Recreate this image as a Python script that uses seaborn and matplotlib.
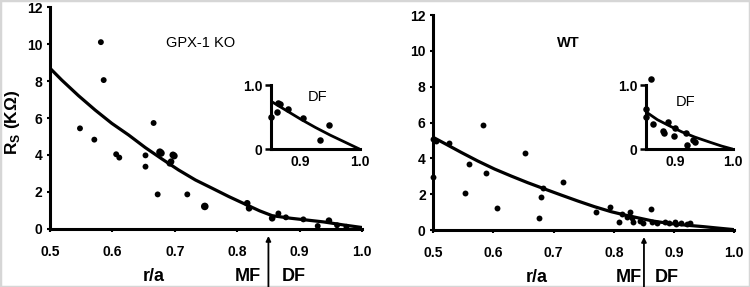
import matplotlib
matplotlib.use("Agg")
import matplotlib.pyplot as plt
import seaborn as sns
from matplotlib.patches import Rectangle

sns.set_style("ticks")
plt.rcParams['font.family'] = ['Liberation Sans', 'DejaVu Sans']
plt.rcParams['mathtext.fontset'] = 'custom'
plt.rcParams['mathtext.rm'] = 'Liberation Sans'
plt.rcParams['mathtext.bf'] = 'Liberation Sans:bold'
for k in ['text.color', 'axes.labelcolor', 'xtick.color', 'ytick.color', 'axes.edgecolor']:
    plt.rcParams[k] = 'black'

# ---------------- data ----------------
# GPX-1 KO main scatter
ko_x = [0.5815, 0.586, 0.548, 0.571, 0.606, 0.611, 0.666, 0.653, 0.653, 0.676, 0.678,
        0.697, 0.699, 0.694, 0.692, 0.6725, 0.720, 0.748, 0.816, 0.819, 0.856, 0.866,
        0.878, 0.906, 0.947, 0.929, 0.960, 0.975]
ko_y = [10.1, 8.05, 5.44, 4.83, 4.04, 3.86, 5.73, 3.98, 3.37, 4.16, 4.10,
        4.00, 3.95, 3.64, 3.55, 1.87, 1.87, 1.22, 1.39, 1.12, 0.58, 0.84,
        0.63, 0.52, 0.45, 0.16, 0.20, 0.12]
ko_size = [1, 1, 1, 1, 1, 1, 1, 1, 1, 1.4, 1.4,
           1.3, 1.3, 1.2, 1.2, 1, 1, 1.5, 1.2, 1.2, 1.2, 1,
           1, 1, 1.2, 1, 1, 1]
# GPX-1 KO fitted curve
ko_fit_x = [0.5, 0.5188, 0.5455, 0.5723, 0.599, 0.626, 0.6527, 0.6796, 0.706, 0.733,
            0.76, 0.7867, 0.8135, 0.836, 0.856, 0.886, 0.91, 0.939, 0.97, 1.0]
ko_fit_y = [8.69, 8.05, 7.21, 6.43, 5.71, 5.08, 4.40, 3.78, 3.19, 2.65,
            2.20, 1.75, 1.33, 0.98, 0.72, 0.58, 0.49, 0.38, 0.22, 0.08]
# GPX-1 KO inset (DF)
ko_in_x = [0.860, 0.862, 0.866, 0.851, 0.8786, 0.9036, 0.933, 0.9485]
ko_in_y = [0.585, 0.72, 0.70, 0.50, 0.627, 0.48, 0.145, 0.373]
ko_in_fit_x = [0.85, 0.875, 0.9, 0.925, 0.95, 0.975, 1.0]
ko_in_fit_y = [0.75, 0.61, 0.47, 0.34, 0.22, 0.11, 0.0]

# WT main scatter
wt_x = [0.50, 0.5045, 0.526, 0.583, 0.559, 0.587, 0.553, 0.606, 0.50, 0.653, 0.683,
        0.679, 0.676, 0.715, 0.771, 0.794, 0.809, 0.814, 0.821, 0.827, 0.830, 0.832,
        0.843, 0.848, 0.861, 0.863, 0.871, 0.885, 0.892, 0.901, 0.904, 0.912, 0.921, 0.927]
wt_y = [5.08, 4.98, 4.87, 5.84, 3.68, 3.20, 2.06, 1.24, 2.97, 4.28, 2.36,
        1.82, 0.69, 2.69, 1.02, 1.30, 0.43, 0.87, 0.74, 0.99, 0.65, 0.46,
        0.52, 0.41, 1.15, 0.46, 0.37, 0.46, 0.41, 0.46, 0.33, 0.41, 0.33, 0.41]
# WT fitted curve
wt_fit_x = [0.5, 0.519, 0.5465, 0.574, 0.602, 0.6296, 0.657, 0.685, 0.7126, 0.740,
            0.768, 0.7957, 0.818, 0.84, 0.865, 0.893, 0.92, 0.948, 0.975, 1.0]
wt_fit_y = [5.17, 4.83, 4.33, 3.85, 3.40, 3.01, 2.64, 2.29, 1.95, 1.62,
            1.30, 1.02, 0.84, 0.68, 0.50, 0.36, 0.27, 0.19, 0.10, 0.02]
# WT inset (DF)
wt_in_x = [0.8586, 0.8505, 0.85, 0.863, 0.879, 0.881, 0.8887, 0.900, 0.8985, 0.919, 0.921, 0.9315, 0.934]
wt_in_y = [1.09, 0.63, 0.50, 0.39, 0.29, 0.25, 0.43, 0.33, 0.20, 0.26, 0.07, 0.145, 0.12]
wt_in_fit_x = [0.85, 0.87, 0.8916, 0.912, 0.934, 0.96, 0.98, 1.0]
wt_in_fit_y = [0.585, 0.46, 0.36, 0.27, 0.19, 0.11, 0.05, 0.0]

main_xticks = [0.5, 0.6, 0.7, 0.8, 0.9, 1.0]
main_xticklabels = ["0.5", "0.6", "0.7", "0.8", "0.9", "1.0"]
main_yticks = [0, 2, 4, 6, 8, 10, 12]
inset_xticks = [0.9, 1.0]
inset_xticklabels = ["0.9", "1.0"]
inset_yticks = [0, 1.0]
inset_yticklabels = ["0", "1.0"]

# ---------------- figure ----------------
fig = plt.figure(figsize=(7.5, 2.87), dpi=100)
fig.patch.set_facecolor("white")
fig.patches.append(Rectangle((0, 0), 1, 1, transform=fig.transFigure, fill=False,
                             edgecolor="#d6d6d6", linewidth=2.5, zorder=-1))

ax1 = fig.add_axes([0.0667, 0.2021, 0.416, 0.7735])
ax2 = fig.add_axes([0.5777, 0.1986, 0.4013, 0.749])
in1 = fig.add_axes([0.361, 0.4798, 0.119, 0.224])
in2 = fig.add_axes([0.861, 0.4798, 0.1168, 0.224])

def style_common(ax):
    for s in ["top", "right"]:
        ax.spines[s].set_visible(False)
    for s in ["left", "bottom"]:
        ax.spines[s].set_linewidth(2.2)
        ax.spines[s].set_color("black")
    ax.set_xlabel("")
    ax.set_ylabel("")
    ax.set_facecolor("none")

def style_main(ax):
    ax.set_xlim(0.5, 1.0)
    ax.set_ylim(0, 12)
    ax.set_xticks(main_xticks)
    ax.set_xticklabels(main_xticklabels)
    ax.set_yticks(main_yticks)
    style_common(ax)
    ax.tick_params(axis="x", length=2.5, width=1.5, pad=9, labelsize=10)
    ax.tick_params(axis="y", length=2.5, width=1.5, pad=3, labelsize=10)
    for lab in ax.get_xticklabels() + ax.get_yticklabels():
        lab.set_fontweight("bold")

def style_inset(ax):
    ax.set_xlim(0.85, 1.0)
    ax.set_ylim(0, 1.0)
    ax.set_xticks(inset_xticks)
    ax.set_xticklabels(inset_xticklabels)
    ax.set_yticks(inset_yticks)
    ax.set_yticklabels(inset_yticklabels)
    style_common(ax)
    ax.tick_params(axis="x", length=0, pad=4, labelsize=10)
    ax.tick_params(axis="y", length=4, width=1.8, pad=2, labelsize=10)
    for lab in ax.get_xticklabels() + ax.get_yticklabels():
        lab.set_fontweight("bold")

# main panels
sns.scatterplot(x=ko_x, y=ko_y, size=ko_size, sizes=(18, 30), ax=ax1, color="black",
                linewidth=0, clip_on=False, zorder=3, legend=False)
sns.lineplot(x=ko_fit_x, y=ko_fit_y, ax=ax1, color="black", linewidth=2.3,
             estimator=None, sort=True, zorder=4)
sns.scatterplot(x=wt_x, y=wt_y, ax=ax2, color="black", s=18,
                linewidth=0, clip_on=False, zorder=3)
sns.lineplot(x=wt_fit_x, y=wt_fit_y, ax=ax2, color="black", linewidth=2.3,
             estimator=None, sort=True, zorder=4)

# insets
sns.scatterplot(x=ko_in_x, y=ko_in_y, ax=in1, color="black", s=22,
                linewidth=0, clip_on=False, zorder=3)
sns.lineplot(x=ko_in_fit_x, y=ko_in_fit_y, ax=in1, color="black", linewidth=2.0,
             estimator=None, zorder=4)
sns.scatterplot(x=wt_in_x, y=wt_in_y, ax=in2, color="black", s=22,
                linewidth=0, clip_on=False, zorder=3)
sns.lineplot(x=wt_in_fit_x, y=wt_in_fit_y, ax=in2, color="black", linewidth=2.0,
             estimator=None, zorder=4)

style_main(ax1)
style_main(ax2)
style_inset(in1)
style_inset(in2)

# y-axis label placed explicitly in figure coordinates
fig.text(12 / 750, 1 - 122 / 287, r"R$_\mathbf{S}$ (KΩ)", rotation=90, ha="center",
         va="center", fontsize=12.5, fontweight="bold")

# panel titles
ax1.text(0.741, 10.05, "GPX-1 KO", ha="center", va="center", fontsize=10.5)
ax2.text(0.724, 10.43, "WT", ha="center", va="center", fontsize=10.5, fontweight="bold")
in1.text(0.9295, 0.81, "DF", ha="center", va="center", fontsize=10.5)
in2.text(0.919, 0.735, "DF", ha="center", va="center", fontsize=10.5)

# bottom labels and arrows
for ax, ys, xs in [(ax1, 18.5, (0.6656, 0.8167, 0.8907)), (ax2, 17.93, (0.672, 0.825, 0.888))]:
    ylab = -48 / ys
    ax.text(xs[0], ylab, "r/a", ha="center", va="center", fontsize=13, fontweight="bold")
    ax.text(xs[1], ylab, "MF", ha="center", va="center", fontsize=13, fontweight="bold")
    ax.text(xs[2], ylab, "DF", ha="center", va="center", fontsize=13, fontweight="bold")
    ax.annotate("", xy=(0.85, -7 / ys), xytext=(0.85, -58 / ys), xycoords="data",
                annotation_clip=False,
                arrowprops=dict(arrowstyle="-|>", color="black", lw=1.3,
                                mutation_scale=7, shrinkA=0, shrinkB=0))

fig.savefig("out.png", dpi=100)
